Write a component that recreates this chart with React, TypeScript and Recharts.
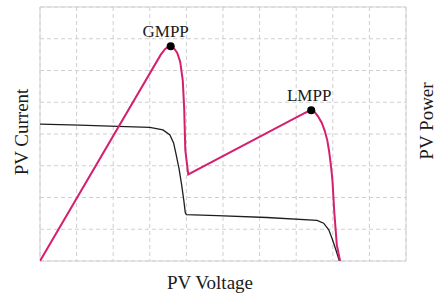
import React from 'react';
import {
  LineChart,
  Line,
  XAxis,
  YAxis,
  CartesianGrid,
  ReferenceDot,
  ReferenceArea,
  Label,
} from 'recharts';

// PV voltage / current characteristic (black)
const currentV = [0, 1.09, 1.91, 3.0, 3.36, 3.55, 3.65, 3.72, 3.8, 3.87, 3.93, 3.97, 4.0, 4.84, 6.2, 7.57, 7.75, 7.89, 7.98, 8.07, 8.18];
const currentI = [4.31, 4.28, 4.25, 4.21, 4.13, 3.97, 3.72, 3.35, 2.9, 2.4, 1.9, 1.52, 1.46, 1.43, 1.37, 1.28, 1.19, 0.98, 0.71, 0.4, 0.0];

// PV voltage / power characteristic (pink)
const powerV = [0, 3.3, 3.42, 3.5, 3.57, 3.66, 3.75, 3.83, 3.9, 3.94, 3.97, 4.05, 7.25, 7.41, 7.5, 7.6, 7.7, 7.78, 7.85, 7.9, 7.95, 7.99, 8.04, 8.11, 8.2];
const powerP = [0, 6.5, 6.68, 6.74, 6.76, 6.7, 6.55, 6.28, 5.7, 4.8, 3.5, 2.73, 4.67, 4.75, 4.7, 4.55, 4.35, 4.1, 3.8, 3.45, 3.0, 2.55, 1.55, 0.5, 0];

// Maximum power points
const mppNames = ['GMPP', 'LMPP'];
const mppV = [3.57, 7.41];
const mppP = [6.76, 4.75];
const mppShift = [-5, -2];

const xTicks = [0, 1, 2, 3, 4, 5, 6, 7, 8, 9, 10];
const yTicks = [0, 1, 2, 3, 4, 5, 6, 7, 8];

const currentData = currentV.map((v, i) => ({ v, i: currentI[i] }));
const powerData = powerV.map((v, i) => ({ v, p: powerP[i] }));

const FONT = '"Liberation Serif", "Times New Roman", serif';
const PINK = '#d4206e';

const EmptyTick = () => <g />;

const XLabelContent = () => (
  <text x={210} y={289} textAnchor="middle" fontFamily={FONT} fontSize={19} fill="#1a1a1a">
    PV Voltage
  </text>
);

const LeftLabelContent = () => (
  <text
    x={28}
    y={132}
    textAnchor="middle"
    fontFamily={FONT}
    fontSize={19}
    fill="#1a1a1a"
    transform="rotate(-90, 28, 132)"
  >
    PV Current
  </text>
);

const RightLabelContent = () => (
  <text
    x={433}
    y={121}
    textAnchor="middle"
    fontFamily={FONT}
    fontSize={19}
    fill="#1a1a1a"
    transform="rotate(-90, 433, 121)"
  >
    PV Power
  </text>
);

const makeMppLabel = (name: string, shift: number) => (props: any) => {
  const vb = props.viewBox || {};
  const cx = (vb.x ?? 0) + (vb.width ?? 0) / 2;
  return (
    <text x={cx + shift} y={(vb.y ?? 0) - 5} textAnchor="middle" fontFamily={FONT} fontSize={17} fill="#1a1a1a">
      {name}
    </text>
  );
};

export default function App() {
  return (
    <div style={{ position: 'absolute', left: 0, top: 0, width: 437, height: 295, background: '#fff' }}>
      <LineChart width={437} height={295} margin={{ top: 7, right: 0, bottom: 0, left: 0 }}>
        <CartesianGrid yAxisId="left" xAxisId={0} stroke="#cfcfcf" strokeDasharray="4 3" />
        <XAxis
          xAxisId={0}
          type="number"
          dataKey="v"
          domain={[0, 10]}
          ticks={xTicks}
          tick={EmptyTick}
          axisLine={false}
          tickLine={false}
          height={34}
          allowDataOverflow
        >
          <Label content={XLabelContent} />
        </XAxis>
        <YAxis
          yAxisId="left"
          type="number"
          domain={[0, 8]}
          ticks={yTicks}
          tick={EmptyTick}
          axisLine={false}
          tickLine={false}
          width={40}
          allowDataOverflow
        >
          <Label content={LeftLabelContent} />
        </YAxis>
        <YAxis
          yAxisId="right"
          type="number"
          orientation="right"
          domain={[0, 8]}
          ticks={yTicks}
          tick={EmptyTick}
          axisLine={false}
          tickLine={false}
          width={31}
          allowDataOverflow
        >
          <Label content={RightLabelContent} />
        </YAxis>
        <ReferenceArea xAxisId={0} yAxisId="left" x1={0} x2={10} y1={0} y2={8} fill="none" stroke="#d2d2d2" strokeWidth={1} />
        <Line
          xAxisId={0}
          yAxisId="left"
          data={currentData}
          dataKey="i"
          type="linear"
          stroke="#1e1e1e"
          strokeWidth={1.3}
          dot={false}
          isAnimationActive={false}
        />
        <Line
          xAxisId={0}
          yAxisId="right"
          data={powerData}
          dataKey="p"
          type="linear"
          stroke={PINK}
          strokeWidth={2}
          dot={false}
          isAnimationActive={false}
        />
        {mppNames.map((name, k) => (
          <ReferenceDot
            key={name}
            xAxisId={0}
            yAxisId="right"
            x={mppV[k]}
            y={mppP[k]}
            r={4}
            fill="#000"
            stroke="none"
            label={{ content: makeMppLabel(name, mppShift[k]) } as any}
          />
        ))}
      </LineChart>
    </div>
  );
}
